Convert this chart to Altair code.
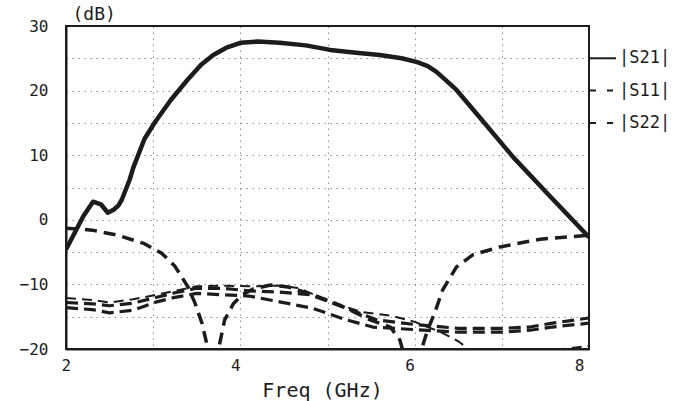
import altair as alt
import pandas as pd

# ---- trace data (frequency in GHz, magnitude in dB) ----
s21_freq = [2.0, 2.1, 2.2, 2.31, 2.4, 2.48, 2.55, 2.6, 2.64, 2.73, 2.77, 2.9, 3.02, 3.2,
            3.39, 3.55, 3.69, 3.85, 4.0, 4.2, 4.45, 4.75, 5.03, 5.3, 5.6, 5.85, 6.03,
            6.15, 6.25, 6.35, 6.48, 6.75, 7.13, 7.52, 8.0]
s21_db = [-4.6, -2.0, 0.6, 2.8, 2.4, 1.1, 1.6, 2.2, 3.1, 6.2, 8.0, 12.5, 15.1, 18.5,
          21.6, 24.0, 25.5, 26.7, 27.4, 27.6, 27.4, 27.0, 26.3, 25.9, 25.5, 25.0, 24.4,
          23.8, 22.9, 21.7, 20.1, 15.8, 9.7, 4.1, -2.7]

s11_freq = [2.0, 2.3, 2.6, 2.9, 3.1, 3.25, 3.4, 3.48, 3.56, 3.62, 3.68, 3.75, 3.82, 3.92,
            4.02, 4.15, 4.35, 4.55, 4.83, 5.14, 5.49, 5.72, 5.83, 5.9, 5.97, 6.08, 6.15,
            6.23, 6.32, 6.48, 6.67, 6.98, 7.44, 8.0]
s11_db = [-1.3, -1.6, -2.4, -3.7, -5.2, -7.2, -10.4, -12.9, -16.0, -19.5, -24.0, -20.0,
          -15.5, -13.0, -11.6, -10.7, -10.1, -10.4, -11.6, -13.2, -15.5, -16.6, -18.6,
          -22.0, -26.0, -20.0, -17.0, -14.4, -10.9, -7.3, -5.4, -4.2, -3.0, -2.4]

s11b_freq = [2.0, 2.3, 2.5, 2.77, 3.04, 3.25, 3.5, 3.8, 4.1, 4.45, 4.68, 5.03, 5.4,
             5.75, 6.0, 6.3, 6.5, 6.65, 7.1, 7.6, 8.0]
s11b_db = [-12.1, -12.4, -12.8, -12.3, -11.6, -11.0, -10.3, -10.2, -10.3, -10.2, -10.6,
           -12.7, -14.3, -14.9, -15.8, -17.4, -18.8, -20.3, -23.0, -20.2, -19.5]

s22_freq = [2.0, 2.3, 2.5, 2.77, 3.04, 3.25, 3.5, 3.8, 4.1, 4.45, 4.8, 5.22, 5.57, 6.0,
            6.5, 7.0, 7.32, 7.58, 8.0]
s22_db = [-12.8, -13.0, -13.3, -12.9, -12.0, -11.3, -10.6, -10.6, -11.0, -11.2, -11.6,
          -13.7, -15.5, -16.2, -16.8, -16.8, -16.6, -16.0, -15.2]

s22b_freq = [2.0, 2.3, 2.5, 2.77, 3.04, 3.25, 3.5, 3.8, 4.1, 4.45, 4.83, 5.22, 5.52, 6.0,
             6.5, 7.0, 7.32, 7.58, 8.0]
s22b_db = [-13.6, -13.9, -14.4, -14.0, -12.7, -12.0, -11.4, -11.6, -11.8, -12.7, -13.7,
           -15.5, -16.6, -17.0, -17.4, -17.4, -17.1, -16.6, -16.0]

# ---- key entries ----
key_labels = ["|S21|", "|S11|", "|S22|"]
key_levels = [25, 20, 15]
key_solid = [True, False, False]

INK = "#1c1c1c"
GRID = "#8f8f8f"
FONT = "DejaVu Sans Mono"
PLOT_W, PLOT_H = 523, 323


def frame(name, f, d):
    return pd.DataFrame({"freq": f, "db": d, "trace": name})


traces = pd.concat([
    frame("S21", s21_freq, s21_db),
    frame("S11", s11_freq, s11_db),
    frame("S11b", s11b_freq, s11b_db),
    frame("S22", s22_freq, s22_db),
    frame("S22b", s22b_freq, s22b_db),
], ignore_index=True)

key = pd.DataFrame({"label": key_labels, "db": key_levels, "solid": key_solid})

x_scale = alt.Scale(domain=[2, 8], nice=False, zero=False)
y_scale = alt.Scale(domain=[-20, 30], nice=False, zero=False)

x_enc = alt.X(
    "freq:Q", scale=x_scale, title="Freq (GHz)",
    axis=alt.Axis(
        values=[2, 3, 4, 5, 6, 7, 8],
        labelExpr="datum.value % 2 == 0 ? datum.label : ''",
        ticks=False, labelPadding=8, labelBaseline="top", labelOffset=-5,
        labelFont=FONT, labelFontSize=16, labelColor=INK,
        titleFont=FONT, titleFontSize=20, titleFontWeight="normal", titleColor=INK,
        titleBaseline="alphabetic", titleY=47, titleX=256, titleAlign="center",
        domainColor=INK, domainWidth=2,
        grid=True, gridColor=GRID, gridDash=[1.5, 4.5], gridWidth=1,
    ),
)
y_enc = alt.Y(
    "db:Q", scale=y_scale, title="(dB)",
    axis=alt.Axis(
        values=list(range(-20, 35, 5)),
        labelExpr="datum.value % 10 == 0 ? datum.label : ''",
        ticks=False, labelPadding=18,
        labelFont=FONT, labelFontSize=16, labelColor=INK,
        titleFont=FONT, titleFontSize=18, titleFontWeight="normal", titleColor=INK,
        titleAngle=0, titleAlign="left", titleBaseline="alphabetic",
        titleX=6, titleY=-7,
        domainColor=INK, domainWidth=2,
        grid=True, gridColor=GRID, gridDash=[1.5, 4.5], gridWidth=1,
    ),
)


def trace_layer(name, width, dash=None):
    style = dict(clip=True, color=INK, strokeWidth=width, strokeCap="butt",
                 strokeJoin="round")
    if dash:
        style["strokeDash"] = dash
    return (alt.Chart(traces)
            .transform_filter(alt.datum.trace == name)
            .mark_line(**style)
            .encode(x=x_enc, y=y_enc))


# plot frame (top and right edges of the box)
box = alt.Chart(key).mark_rect(fill=None, stroke=INK, strokeWidth=2).encode(
    x=alt.value(0), x2=alt.value(PLOT_W), y=alt.value(0), y2=alt.value(PLOT_H))

key_solid_rule = (alt.Chart(key).transform_filter("datum.solid")
                  .mark_rule(color=INK, strokeWidth=2)
                  .encode(x=alt.value(PLOT_W + 1), x2=alt.value(PLOT_W + 27), y=y_enc))
key_dash_rule = (alt.Chart(key).transform_filter("!datum.solid")
                 .mark_rule(color=INK, strokeWidth=2, strokeDash=[6, 11])
                 .encode(x=alt.value(PLOT_W + 1), x2=alt.value(PLOT_W + 27), y=y_enc))
key_text = (alt.Chart(key)
            .mark_text(align="left", baseline="middle", font=FONT, fontSize=17, color=INK)
            .encode(x=alt.value(PLOT_W + 30), y=y_enc, text="label:N"))

chart = alt.layer(
    trace_layer("S22b", 3.2, [12, 6]),
    trace_layer("S22", 3.2, [12, 6]),
    trace_layer("S11b", 2, [10, 6]),
    trace_layer("S11", 3.5, [12, 7]),
    trace_layer("S21", 4.5),
    box,
    key_solid_rule,
    key_dash_rule,
    key_text,
).properties(
    width=PLOT_W,
    height=PLOT_H,
    autosize=alt.AutoSizeParams(type="none"),
    padding={"left": 66, "top": 26, "right": 97, "bottom": 52},
).configure_view(
    stroke=None
).configure(background="white")

chart.save("out.html", embed_options={"renderer": "svg", "actions": False})
